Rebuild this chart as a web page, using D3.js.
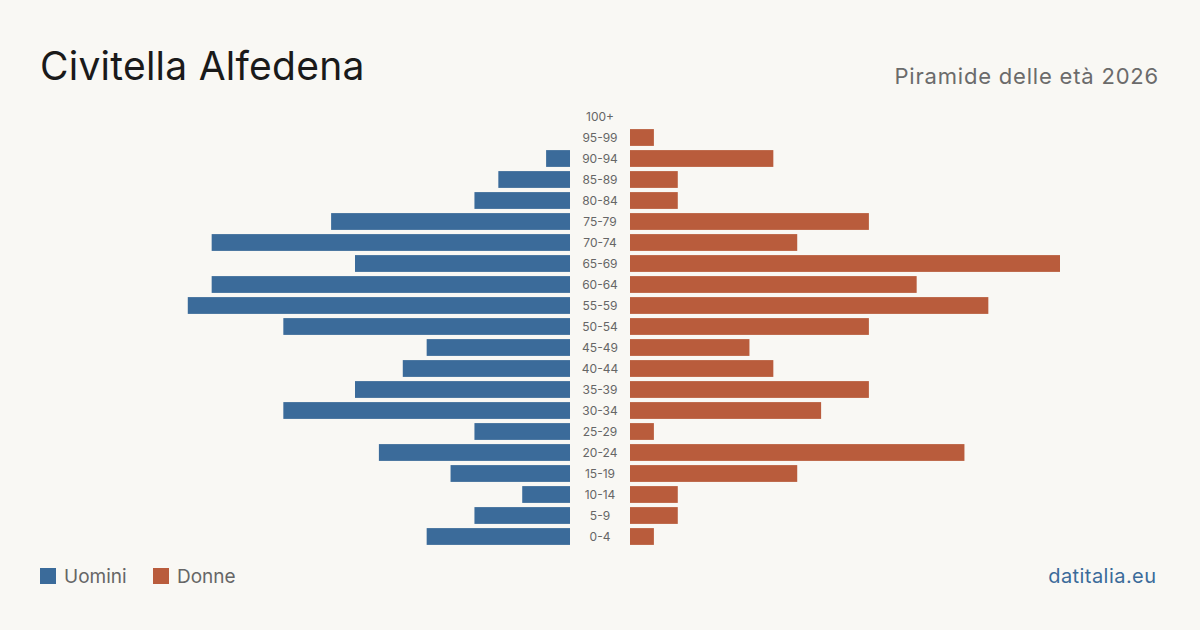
<!DOCTYPE html>
<html><head><meta charset="utf-8">
<script src="https://cdn.jsdelivr.net/npm/d3@7"></script>
<style>
html,body{margin:0;padding:0;background:#f9f8f4;}
svg{display:block;font-family:Inter,"Noto Sans",sans-serif;}
</style></head>
<body>
<script>
const ageGroups = ["100+","95-99","90-94","85-89","80-84","75-79","70-74","65-69","60-64","55-59","50-54","45-49","40-44","35-39","30-34","25-29","20-24","15-19","10-14","5-9","0-4"];
const men   = [0,0,1,3,4,10,15,9,15,16,12,6,7,9,12,4,8,5,2,4,6];
const women = [0,1,6,2,2,10,7,18,12,15,10,5,6,10,8,1,14,7,2,2,1];
const seriesNames = ["Uomini","Donne"];
const colors = ["#3b6b9a","#b95c3c"];
const title = "Civitella Alfedena";
const subtitle = "Piramide delle età 2026";
const source = "datitalia.eu";

const W = 1200, H = 630;
const svg = d3.select("body").append("svg").attr("width", W).attr("height", H);
svg.append("rect").attr("width", W).attr("height", H).attr("fill", "#f9f8f4");

const y = d3.scaleBand().domain(ageGroups).range([106, 547]).paddingInner(0.2).paddingOuter(0.1);
const xMen = d3.scaleLinear().domain([0, 18]).range([570, 140]);
const xWomen = d3.scaleLinear().domain([0, 18]).range([630, 1060]);

const rows = ageGroups.map((a, i) => ({age: a, m: men[i], f: women[i]}));

svg.append("g").selectAll("rect").data(rows.filter(d => d.m > 0)).join("rect")
  .attr("x", d => xMen(d.m)).attr("y", d => y(d.age))
  .attr("width", d => xMen(0) - xMen(d.m)).attr("height", y.bandwidth())
  .attr("fill", colors[0]);

svg.append("g").selectAll("rect").data(rows.filter(d => d.f > 0)).join("rect")
  .attr("x", xWomen(0)).attr("y", d => y(d.age))
  .attr("width", d => xWomen(d.f) - xWomen(0)).attr("height", y.bandwidth())
  .attr("fill", colors[1]);

svg.append("g").selectAll("text").data(ageGroups).join("text")
  .attr("x", 600).attr("y", d => y(d) + y.bandwidth() / 2)
  .attr("dy", "0.35em").attr("text-anchor", "middle")
  .attr("font-size", 12).attr("fill", "#666")
  .text(d => d);

svg.append("text").attr("x", 40).attr("y", 80).attr("font-size", 39)
  .attr("letter-spacing", 0.25)
  .attr("fill", "#1a1a1a").text(title);
svg.append("text").attr("x", 1159).attr("y", 84).attr("font-size", 22)
  .attr("letter-spacing", 0.8)
  .attr("text-anchor", "end").attr("fill", "#6b6b6b").text(subtitle);

const legX = [40, 153];
seriesNames.forEach((n, i) => {
  svg.append("rect").attr("x", legX[i]).attr("y", 568).attr("width", 16).attr("height", 16).attr("fill", colors[i]);
  svg.append("text").attr("x", legX[i] + 24).attr("y", 583).attr("font-size", 19)
    .attr("fill", "#666").text(n);
});

svg.append("text").attr("x", 1156.5).attr("y", 583).attr("font-size", 20)
  .attr("letter-spacing", 0.45)
  .attr("text-anchor", "end").attr("fill", "#3b6b9a").text(source);
</script>
</body></html>
